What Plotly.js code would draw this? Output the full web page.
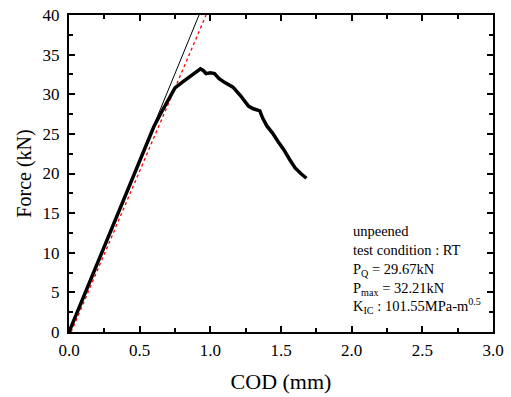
<!DOCTYPE html>
<html><head><meta charset="utf-8">
<script src="https://cdn.plot.ly/plotly-3.0.1.min.js"></script>
<style>html,body{margin:0;padding:0;background:#fff;}#chart{width:511px;height:397px;}</style>
</head><body><div id="chart"></div>
<script>
const codData = [0,0.1,0.2,0.3,0.4,0.5,0.6,0.65,0.70,0.75,0.80,0.85,0.90,0.93,0.95,0.97,1.00,1.03,1.06,1.10,1.16,1.21,1.27,1.30,1.35,1.37,1.40,1.44,1.48,1.52,1.56,1.60,1.64,1.68];
const forceData = [0,4.3,8.7,13.0,17.3,21.7,25.9,27.6,29.3,30.8,31.5,32.2,32.9,33.2,33.0,32.6,32.7,32.6,32.0,31.5,30.9,29.9,28.5,28.2,27.9,27.0,26.0,25.1,24.0,23.0,21.8,20.7,20.0,19.4];
const tangentX = [0, 0.92];
const tangentY = [0, 40];
const secantX = [0.015, 0.97];
const secantY = [0, 40];
const annLines = ["unpeened","test condition : RT","P<sub>Q</sub> = 29.67kN","P<sub>max</sub> = 32.21kN","K<sub>IC</sub> : 101.55MPa-m<sup>0.5</sup>"];

const font = {family:"'Liberation Serif', 'Times New Roman', Times, serif", color:"#000"};
const traces = [
  {x:tangentX, y:tangentY, mode:'lines', line:{color:'#000', width:1}, hoverinfo:'skip'},
  {x:secantX, y:secantY, mode:'lines', line:{color:'#ff0000', width:1.3, dash:'dot'}, hoverinfo:'skip'},
  {x:codData, y:forceData, mode:'lines', line:{color:'#000', width:3.5}, hoverinfo:'skip'}
];
const axisCommon = {showgrid:false, zeroline:false, showline:true, linecolor:'#000', linewidth:2, mirror:'allticks', ticks:'inside', ticklen:6, tickwidth:2, tickcolor:'#000', tickfont:Object.assign({size:17},font)};
const layout = {
  width:511, height:397, margin:{l:69,r:18,t:15,b:65}, showlegend:false,
  paper_bgcolor:'#fff', plot_bgcolor:'#fff', font:font,
  xaxis:Object.assign({}, axisCommon, {range:[0,3], dtick:0.5, tickformat:'.1f', ticklabelstandoff:2, minor:{dtick:0.25, ticks:'inside', ticklen:4, tickwidth:2, tickcolor:'#000'}, title:{text:'COD (mm)', font:Object.assign({size:22},font), standoff:14}}),
  yaxis:Object.assign({}, axisCommon, {range:[0,40], dtick:5, ticklabelstandoff:4, minor:{dtick:2.5, ticks:'inside', ticklen:4, tickwidth:2, tickcolor:'#000'}, title:{text:'Force (kN)', font:Object.assign({size:20},font), standoff:6}}),
  annotations:[{xref:'paper', yref:'paper', x:(351-69)/424, y:(332-221)/317, xanchor:'left', yanchor:'top', align:'left', showarrow:false, text:annLines.join('<br>'), font:Object.assign({size:14.5},font)}]
};
Plotly.newPlot('chart', traces, layout, {displayModeBar:false, staticPlot:true});
</script></body></html>
